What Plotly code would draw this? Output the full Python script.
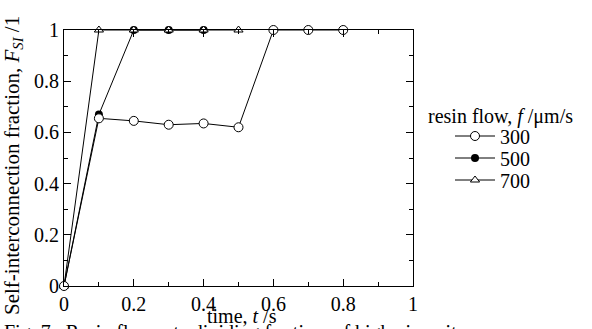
import plotly.graph_objects as go

t_300 = [0, 0.1, 0.2, 0.3, 0.4, 0.5, 0.6, 0.7, 0.8]
f_300 = [0, 0.655, 0.645, 0.63, 0.635, 0.62, 1.0, 1.0, 1.0]
t_500 = [0, 0.1, 0.2, 0.3, 0.4]
f_500 = [0, 0.67, 1.0, 1.0, 1.0]
t_700 = [0, 0.1, 0.2, 0.3, 0.4, 0.5]
f_700 = [0, 1.0, 1.0, 1.0, 1.0, 1.0]
tick_vals = [0, 0.2, 0.4, 0.6, 0.8, 1]
tick_text = ["0", "0.2", "0.4", "0.6", "0.8", "1"]

FONT = "Liberation Serif, Times New Roman, serif"
FS = 20

L, R, T, B = 64, 413, 30, 286
W, H = 592, 329


def px_x(p):
    return (p - L) / (R - L)


def px_y(p):
    return (B - p) / (B - T)


fig = go.Figure()
fig.add_trace(go.Scatter(x=t_500, y=f_500, name="500", mode="lines+markers", legend="legend2",
                         cliponaxis=False,
                         line=dict(color="black", width=1),
                         marker=dict(symbol="circle", size=8, color="black")))
fig.add_trace(go.Scatter(x=t_700, y=f_700, name="700", mode="lines+markers", legend="legend3",
                         cliponaxis=False,
                         line=dict(color="black", width=1),
                         marker=dict(symbol="triangle-up", size=8, color="white",
                                     line=dict(color="black", width=1))))
fig.add_trace(go.Scatter(x=t_300, y=f_300, name="300", mode="lines+markers", legend="legend",
                         cliponaxis=False,
                         line=dict(color="black", width=1),
                         marker=dict(symbol="circle", size=9, color="white",
                                     line=dict(color="black", width=1))))

axis_common = dict(range=[0, 1], tickvals=tick_vals, ticktext=tick_text,
                   ticks="inside", ticklen=7, tickwidth=1, tickcolor="black",
                   showline=True, linecolor="black", linewidth=1, mirror="allticks",
                   showgrid=False, zeroline=False,
                   minor=dict(ticks="inside", dtick=0.1, ticklen=4, tickcolor="black", showgrid=False),
                   tickfont=dict(family=FONT, size=FS, color="black"))


def leg(ypix):
    return dict(x=px_x(450), y=px_y(ypix), xanchor="left", yanchor="middle",
                bgcolor="rgba(0,0,0,0)", font=dict(family=FONT, size=FS, color="black"),
                itemwidth=40)


fig.update_layout(
    width=W, height=H,
    margin=dict(l=L, r=W - R, t=T, b=H - B),
    paper_bgcolor="white", plot_bgcolor="white",
    font=dict(family=FONT, size=FS, color="black"),
    showlegend=True,
    legend=leg(136),
    legend2=leg(158),
    legend3=leg(180),
    xaxis=dict(**axis_common),
    yaxis=dict(**axis_common),
)

fig.add_annotation(text="resin flow, <i>f</i> /μm/s", xref="paper", yref="paper",
                   x=px_x(426), y=px_y(116), xanchor="left", yanchor="middle",
                   showarrow=False, font=dict(family=FONT, size=FS))
fig.add_annotation(text="time, <i>t</i> /s", xref="paper", yref="paper",
                   x=px_x(242), y=px_y(316), xanchor="center", yanchor="middle",
                   showarrow=False, font=dict(family=FONT, size=FS))
fig.add_annotation(text="Self-interconnection fraction, <i>F</i><sub><i>SI</i></sub> /1",
                   xref="paper", yref="paper",
                   x=px_x(13), y=px_y(166), xanchor="center", yanchor="middle",
                   textangle=-90, showarrow=False, font=dict(family=FONT, size=21))
fig.add_annotation(text="Fig. 7   Resin flow rate dividing for time of high viscosity",
                   xref="paper", yref="paper",
                   x=px_x(2), y=px_y(319), xanchor="left", yanchor="top",
                   showarrow=False, font=dict(family=FONT, size=FS))

fig.write_html("out.html")
